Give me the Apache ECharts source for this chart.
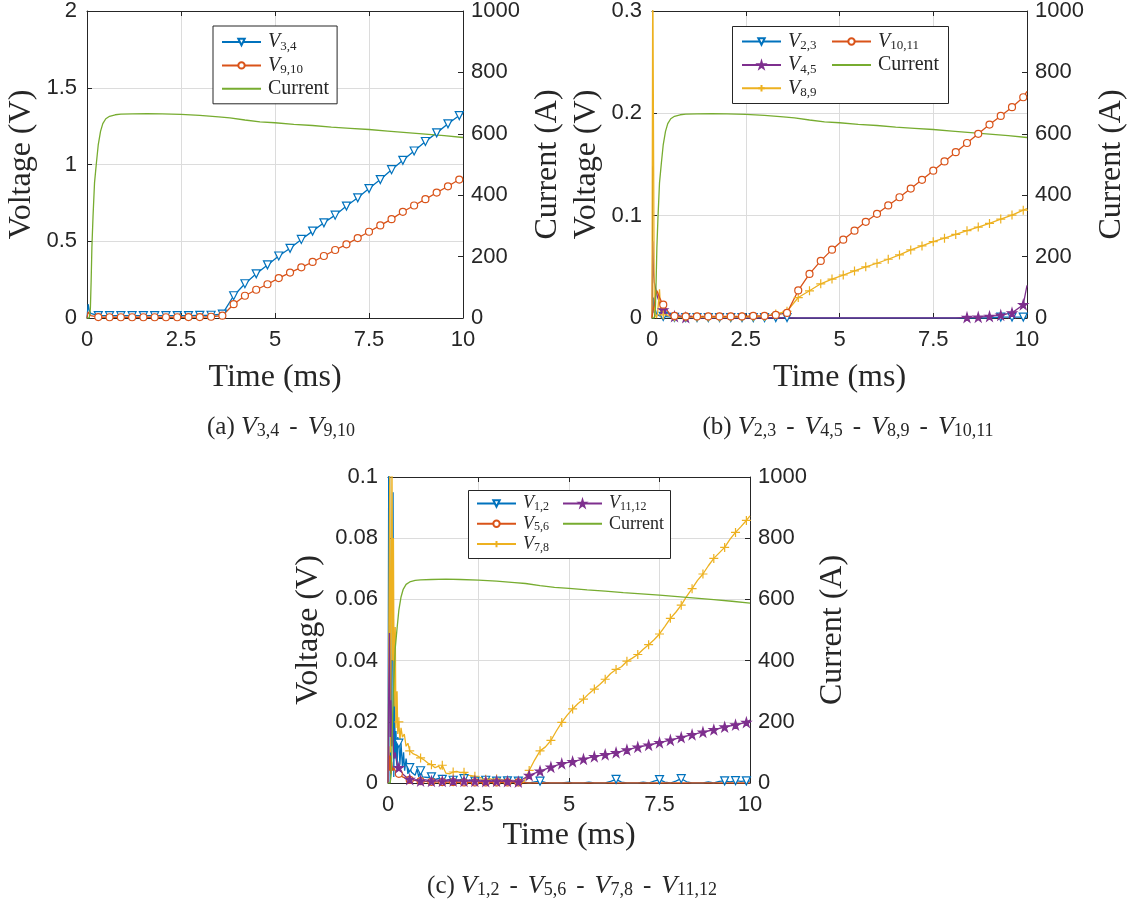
<!DOCTYPE html>
<html><head><meta charset="utf-8">
<script src="https://cdn.jsdelivr.net/npm/echarts@6/dist/echarts.min.js"></script>
<style>html,body{margin:0;padding:0;background:#fff}#c{width:1129px;height:909px}</style>
</head><body><div id="c"></div>
<script>
// ---------- data ----------
const timeTicks = [0, 2.5, 5, 7.5, 10];
// Current (A), shared by all three panels
const tCur = [0, 0.06, 0.09, 0.11, 0.13, 0.16, 0.2, 0.25, 0.3, 0.36, 0.42, 0.5, 0.6, 0.75, 0.9, 1.2, 1.6, 2.0, 2.5, 3.0, 3.5, 3.8, 4.2, 4.6, 5.0, 5.5, 6.0, 6.5, 7.0, 7.5, 8.0, 8.5, 9.0, 9.5, 10];
const iCur = [0, 0, 30, 120, 230, 330, 440, 505, 565, 608, 633, 649, 657, 662, 664, 665, 666, 665, 663, 660, 655, 652, 645, 639, 636, 631, 627, 622, 618, 614, 609, 604, 599, 594, 588];

// Panel (a)
const tA = [0, 0.03, 0.06, 0.1, 0.15, 0.3, 0.6, 0.9, 1.2, 1.5, 1.8, 2.1, 2.4, 2.7, 3.0, 3.3, 3.6,
  3.9, 4.2, 4.5, 4.8, 5.1, 5.4, 5.7, 6.0, 6.3, 6.6, 6.9, 7.2, 7.5, 7.8, 8.1, 8.4, 8.7, 9.0, 9.3, 9.6, 9.9, 10];
const vA34 = [0, 0.09, 0.05, 0.03, 0.02, 0.016, 0.015, 0.015, 0.015, 0.015, 0.015, 0.015, 0.016, 0.016, 0.017, 0.018, 0.025,
  0.145, 0.223, 0.288, 0.346, 0.404, 0.454, 0.512, 0.566, 0.62, 0.67, 0.729, 0.783, 0.843, 0.902, 0.966, 1.027, 1.088, 1.15, 1.206, 1.265, 1.319, 1.333];
const vA910 = [0, 0.04, 0.03, 0.015, 0.01, 0.006, 0.005, 0.005, 0.005, 0.005, 0.005, 0.005, 0.005, 0.006, 0.006, 0.008, 0.015,
  0.09, 0.145, 0.184, 0.22, 0.26, 0.296, 0.33, 0.365, 0.404, 0.443, 0.48, 0.521, 0.562, 0.603, 0.644, 0.692, 0.733, 0.774, 0.817, 0.858, 0.902, 0.91];

// Panel (b)
const tB = [0, 0.02, 0.04, 0.06, 0.09, 0.12, 0.15, 0.2, 0.24, 0.3, 0.45, 0.6,
  0.9, 1.2, 1.5, 1.8, 2.1, 2.4, 2.7, 3.0, 3.3, 3.6,
  3.9, 4.2, 4.5, 4.8, 5.1, 5.4, 5.7, 6.0, 6.3, 6.6, 6.9, 7.2, 7.5, 7.8, 8.1, 8.4, 8.7, 9.0, 9.3, 9.6, 9.9, 10];
const vB23 = [0, 0.01, 0.02, 0.005, 0.008, 0.004, 0.003, 0.002, 0.002, 0.0015, 0.001, 0.0006,
  0.0004, 0.0004, 0.0004, 0.0004, 0.0004, 0.0004, 0.0004, 0.0004, 0.0004, 0.0004,
  0, 0, 0, 0, 0, 0, 0, 0, 0, 0, 0, 0, 0, 0, 0, 0, 0, 0, 0.0009, 0.0009, 0.0009, 0.0009];
const vB45 = [0, 0.075, 0.045, 0.035, 0.03, 0.025, 0.02, 0.015, 0.012, 0.008, 0.004, 0.0015,
  0.0005, 0, 0, 0, 0, 0, 0, 0, 0, 0,
  0, 0, 0, 0, 0, 0, 0, 0, 0, 0, 0, 0, 0, 0, 0, 0.0006, 0.0008, 0.0015, 0.0028, 0.005, 0.013, 0.032];
const vB89 = [0, 0.35, 0.35, 0.01, 0.003, 0, 0.005, 0.028, 0, 0.003, 0.002, 0.001,
  0.001, 0.001, 0.001, 0.001, 0.001, 0.0012, 0.0012, 0.0015, 0.004, 0.0065,
  0.02, 0.0266, 0.0334, 0.038, 0.042, 0.046, 0.05, 0.0535, 0.0574, 0.0616, 0.0665, 0.0704, 0.0746, 0.078, 0.0817, 0.0853, 0.0889, 0.0924, 0.0967, 0.1006, 0.1054, 0.107];
const vB1011 = [0, 0.005, 0.01, 0.012, 0.02, 0.027, 0.025, 0.02, 0.017, 0.013, 0.005, 0.002,
  0.0015, 0.0015, 0.0015, 0.0015, 0.0015, 0.0015, 0.002, 0.002, 0.003, 0.005,
  0.0269, 0.0431, 0.0558, 0.0668, 0.0765, 0.0853, 0.094, 0.1018, 0.11, 0.118, 0.1265, 0.135, 0.144, 0.153, 0.162, 0.171, 0.18, 0.189, 0.1975, 0.206, 0.2157, 0.2215];

// Panel (c)  [time ms, volts]
const c12 = [[0,0],[0.02,0.105],[0.04,0.11],[0.06,0],[0.08,0.04],[0.1,0.012],[0.12,0.06],[0.14,0.095],[0.16,0.002],[0.18,0.03],
  [0.2,0.008],[0.22,0.017],[0.25,0.004],[0.27,0.015],[0.3,0.013],[0.33,0.006],[0.36,0.013],[0.4,0.005],[0.43,0.01],[0.46,0.004],
  [0.5,0.008],[0.55,0.003],[0.6,0.005],[0.65,0.0035],[0.7,0.004],[0.75,0.0025],[0.8,0.0045],[0.85,0.002],[0.9,0.004],[0.95,0.002],
  [1.0,0.0025],[1.1,0.0018],[1.2,0.002],[1.3,0.0012],[1.4,0.0015],[1.5,0.0012],[1.6,0.0008],[1.7,0.0012],[1.8,0.0009],[1.9,0.0006],
  [2.0,0.0011],[2.1,0.0014],[2.2,0.0007],[2.3,0.0009],[2.4,0.0006],[2.5,0.0008],[2.6,0.0005],[2.7,0.0009],[2.8,0.0005],[2.9,0.0007],
  [3.0,0.0006],[3.15,0.0004],[3.3,0.0007],[3.45,0.0004],[3.6,0.0006],[3.75,0.0003],[3.9,0],[4.05,0.0004],[4.2,0.0006],[4.35,0.0002],
  [4.5,0],[4.8,0],[5.0,0.0003],[5.1,0],[5.4,0],[5.55,0.0003],[5.7,0],[6.0,0],[6.15,0.0005],[6.3,0.0012],[6.45,0.0003],[6.6,0],
  [6.9,0],[7.05,0.0003],[7.2,0],[7.35,0.0006],[7.5,0.0011],[7.65,0.0003],[7.8,0],[7.95,0.0006],[8.1,0.0014],[8.25,0.0004],
  [8.4,0],[8.7,0],[8.85,0.0004],[9.0,0],[9.15,0.0005],[9.3,0.0007],[9.45,0.0004],[9.6,0.0008],[9.75,0.0005],[9.9,0.0007],[10,0.0006]];
const c56 = [[0,0],[0.02,0.012],[0.04,0.004],[0.06,0.009],[0.08,0.003],[0.1,0.007],[0.13,0.004],[0.16,0.005],[0.2,0.004],[0.25,0.0035],
  [0.3,0.003],[0.4,0.002],[0.5,0.0015],[0.6,0.001],[0.9,0.0006],[1.2,0.0004],[1.5,0.0003],[1.8,0.0003],[2.1,0.0002],[2.4,0.0002],
  [2.7,0.0002],[3.0,0.0002],[3.3,0.0002],[3.6,0.0002],[3.9,0],[4.5,0],[5.1,0],[5.7,0],[6.3,0],[6.9,0],
  [7.5,0],[8.1,0],[8.7,0],[9.3,0],[9.9,0],[10,0]];
const c78 = [[0,0],[0.03,0],[0.05,0.105],[0.07,0.01],[0.09,0.06],[0.11,0.105],[0.13,0.04],[0.15,0.08],[0.17,0.025],[0.2,0.051],
  [0.22,0.018],[0.25,0.03],[0.27,0.016],[0.3,0.02],[0.33,0.014],[0.36,0.018],[0.4,0.015],[0.45,0.016],[0.5,0.012],[0.55,0.013],
  [0.6,0.0105],[0.65,0.011],[0.7,0.0095],[0.8,0.009],[0.9,0.0082],[1.0,0.0075],[1.1,0.0065],[1.2,0.006],[1.3,0.005],[1.4,0.0055],
  [1.45,0.0045],[1.5,0.0058],[1.6,0.0032],[1.7,0.003],[1.8,0.0036],[1.9,0.0038],[2.0,0.0034],[2.1,0.0035],[2.2,0.0026],[2.3,0.0024],
  [2.4,0.0022],[2.5,0.0016],[2.6,0.0018],[2.7,0.0012],[2.8,0.0014],[2.9,0.0011],[3.0,0.0013],[3.1,0.0009],[3.2,0.001],[3.3,0.0008],
  [3.45,0.0007],[3.6,0.0005],[3.75,0.0003],[3.9,0.0041],[4.05,0.0075],[4.2,0.0105],[4.35,0.0118],[4.5,0.0139],[4.65,0.017],[4.8,0.0198],
  [4.95,0.0222],[5.1,0.0242],[5.25,0.026],[5.4,0.0274],[5.55,0.0292],[5.7,0.0307],[5.85,0.0322],[6.0,0.0339],[6.15,0.0358],[6.3,0.0371],
  [6.45,0.038],[6.6,0.0398],[6.75,0.0408],[6.9,0.042],[7.05,0.0437],[7.2,0.0452],[7.35,0.0468],[7.5,0.0487],[7.65,0.0512],[7.8,0.0538],
  [7.95,0.0558],[8.1,0.0581],[8.25,0.061],[8.4,0.0635],[8.55,0.0662],[8.7,0.0683],[8.85,0.071],[9.0,0.0734],[9.15,0.0752],[9.3,0.077],
  [9.45,0.0797],[9.6,0.0819],[9.75,0.0838],[9.9,0.0858],[10,0.0873]];
const c1112 = [[0,0],[0.02,0.03],[0.04,0.049],[0.06,0.015],[0.08,0.027],[0.1,0.012],[0.13,0.018],[0.16,0.008],[0.2,0.01],[0.25,0.006],
  [0.3,0.005],[0.4,0.003],[0.5,0.002],[0.6,0.0012],[0.9,0.0007],[1.2,0.0006],[1.5,0.0006],[1.8,0.0007],[2.1,0.0006],[2.4,0.0006],
  [2.7,0.0005],[3.0,0.0006],[3.3,0.0005],[3.6,0.0004],[3.9,0.0025],[4.2,0.0039],[4.5,0.0052],[4.8,0.0063],[5.1,0.007],[5.4,0.0078],
  [5.7,0.0086],[6.0,0.0093],[6.3,0.0099],[6.6,0.0108],[6.9,0.0117],[7.2,0.0124],[7.5,0.0132],[7.8,0.014],[8.1,0.0149],[8.4,0.0158],
  [8.7,0.0166],[9.0,0.0174],[9.3,0.0183],[9.6,0.019],[9.9,0.0198],[10,0.0206]];

// ---------- style ----------
const COL = {blue:'#0072BD', orange:'#D95319', yellow:'#EDB120', purple:'#7E2F8E', green:'#77AC30'};
const INK = '#262626';
const GRIDC = '#dcdcdc';
const SERIF = '"Liberation Serif","Times New Roman",serif';
const SANS = '"Liberation Sans",Arial,Helvetica,sans-serif';
const TICKFS = 22;
const SYM = {
  tri:  {symbol:'triangle', rotate:180, size:8, fill:'#fff'},
  circ: {symbol:'circle', rotate:0, size:7, fill:'#fff'},
  plus: {symbol:'path://M5,0L5,10M0,5L10,5', rotate:0, size:9, fill:'none'},
  star: {symbol:'path://M50,0L61,35L98,35L68,57L79,91L50,70L21,91L32,57L2,35L39,35Z', rotate:0, size:9, fill:null}
};

const isMark = t => { const k = Math.round(t * 100); return k > 0 && k % 30 === 0; };
const zipPairs = (ts, vs) => ts.map((t, i) => [t, vs[i]]);
const toItems = pairs => pairs.map(([t, v]) => (isMark(t) && v > 0) ? {value:[t, v]} : {value:[t, v], symbol:'none'});

function vSeries(name, color, sym, pairs, gi) {
  return {
    type:'line', name, xAxisIndex:2*gi, yAxisIndex:2*gi, data:toItems(pairs),
    symbol:sym.symbol, symbolSize:sym.size, symbolRotate:sym.rotate, showSymbol:true,
    lineStyle:{color, width:1.3}, color,
    itemStyle:{color: (sym.fill === null || sym.fill === 'none') ? color : sym.fill, borderColor:color, borderWidth:1.2},
    emphasis:{disabled:true}, z:2
  };
}
function curSeries(gi) {
  return {type:'line', name:'Current', xAxisIndex:2*gi, yAxisIndex:2*gi+1, data:zipPairs(tCur, iCur),
    symbol:'none', showSymbol:false, lineStyle:{color:COL.green, width:1.3}, color:COL.green,
    itemStyle:{color:COL.green}, emphasis:{disabled:true}, z:2};
}

const plainNum = v => String(Math.round(v * 1e6) / 1e6);
const lblStyle = {color:INK, fontSize:TICKFS, fontFamily:SANS, formatter:plainNum};
const nameStyle = {color:INK, fontSize:32, fontFamily:SERIF};
function axesFor(gi, vmax, vint, opts) {
  const xs = [
    {gridIndex:gi, type:'value', min:0, max:10, interval:2.5, position:'bottom',
     axisLine:{show:true, onZero:false, lineStyle:{color:INK, width:1}},
     axisTick:{show:true, inside:true, length:5, lineStyle:{color:INK}},
     axisLabel:Object.assign({margin:opts.xMargin}, lblStyle),
     splitLine:{show:true, lineStyle:{color:GRIDC, width:1}},
     name:'Time (ms)', nameLocation:'middle', nameGap:opts.xNameGap, nameTextStyle:nameStyle},
    {gridIndex:gi, type:'value', min:0, max:10, interval:2.5, position:'top',
     axisLine:{show:true, onZero:false, lineStyle:{color:INK, width:1}},
     axisTick:{show:true, inside:true, length:5, lineStyle:{color:INK}},
     axisLabel:{show:false}, splitLine:{show:false}}
  ];
  const ys = [
    {gridIndex:gi, type:'value', min:0, max:vmax, interval:vint, position:'left',
     axisLine:{show:true, onZero:false, lineStyle:{color:INK, width:1}},
     axisTick:{show:true, inside:true, length:5, lineStyle:{color:INK}},
     axisLabel:Object.assign({margin:10}, lblStyle),
     splitLine:{show:true, lineStyle:{color:GRIDC, width:1}},
     name:'Voltage (V)', nameLocation:'middle', nameRotate:90, nameGap:opts.yNameGap, nameTextStyle:nameStyle},
    {gridIndex:gi, type:'value', min:0, max:1000, interval:200, position:'right',
     axisLine:{show:true, onZero:false, lineStyle:{color:INK, width:1}},
     axisTick:{show:true, inside:true, length:5, lineStyle:{color:INK}},
     axisLabel:Object.assign({margin:8}, lblStyle),
     splitLine:{show:false},
     name:'Current (A)', nameLocation:'middle', nameRotate:90, nameGap:opts.y2NameGap, nameTextStyle:nameStyle}
  ];
  return {xs, ys};
}

const A = axesFor(0, 2, 0.5, {xMargin:11, xNameGap:44, yNameGap:49, y2NameGap:69});
const B = axesFor(1, 0.3, 0.1, {xMargin:11, xNameGap:44, yNameGap:49, y2NameGap:69});
const Cx = axesFor(2, 0.1, 0.02, {xMargin:11, xNameGap:37, yNameGap:63, y2NameGap:67});

function legendRich(fs, sfs, lh) {
  return {
    i:{fontFamily:SERIF, fontStyle:'italic', fontSize:fs, lineHeight:lh, color:INK},
    s:{fontFamily:SERIF, fontSize:sfs, lineHeight:sfs, verticalAlign:'bottom', color:INK},
    n:{fontFamily:SERIF, fontSize:fs, lineHeight:lh, color:INK}
  };
}
const legFmt = n => n === 'Current' ? '{n|Current}' : '{i|V}{s|' + n.slice(1) + '}';
const legData = names => names.map(n => n === 'Current' ? {name:n, itemStyle:{opacity:0}} : n);
function mkLegend(left, top, names, fs, sfs, lh, gap, extra) {
  return Object.assign({
    orient:'vertical', left, top, data:legData(names), itemGap:gap, itemWidth:39, itemHeight:8,
    formatter:legFmt, textStyle:{rich:legendRich(fs, sfs, lh), padding:[0,0,0,2]},
    selectedMode:false, z:5, padding:0
  }, extra || {});
}

const capRich = {
  n:{fontFamily:SERIF, fontSize:25, color:INK},
  d:{fontFamily:SERIF, fontSize:25, color:INK, padding:[0,10,0,10]},
  i:{fontFamily:SERIF, fontStyle:'italic', fontSize:26, color:INK},
  s:{fontFamily:SERIF, fontSize:18, color:INK, verticalAlign:'bottom', lineHeight:18}
};
function caption(x, y, parts, label) {
  let txt = '{n|(' + label + ') }';
  parts.forEach((p, k) => { txt += (k ? '{d|-}' : '') + '{i|V}{s|' + p + '}'; });
  return {type:'text', x, y, z:10, style:{text:txt, rich:capRich, align:'center', verticalAlign:'middle', fill:INK}};
}

const option = {
  animation:false,
  backgroundColor:'#fff',
  grid:[
    {left:87, top:10, width:376, height:308},
    {left:652, top:10, width:376, height:308},
    {left:388, top:477, width:362, height:306}
  ],
  xAxis:[...A.xs, ...B.xs, ...Cx.xs],
  yAxis:[...A.ys, ...B.ys, ...Cx.ys],
  legend:[
    mkLegend(213, 26, ['V3,4','V9,10','Current'], 20, 13, 22, 2.4,
      {padding:[6,8,5,8], borderColor:INK, borderWidth:1, backgroundColor:'#fff'}),
    mkLegend(741, 31.5, ['V2,3','V4,5','V8,9'], 20, 13, 22, 2.4),
    mkLegend(831, 31.5, ['V10,11','Current'], 20, 13, 22, 2.4),
    mkLegend(476, 494.5, ['V1,2','V5,6','V7,8'], 18, 12, 19, 1.8),
    mkLegend(562, 494.5, ['V11,12','Current'], 18, 12, 19, 1.8)
  ],
  graphic:[
    {type:'rect', z:4, shape:{x:732.5, y:26.5, width:216, height:77}, style:{fill:'#fff', stroke:INK, lineWidth:1}},
    {type:'rect', z:4, shape:{x:468.5, y:490.5, width:202, height:68}, style:{fill:'#fff', stroke:INK, lineWidth:1}},
    caption(281, 427, ['3,4','9,10'], 'a'),
    caption(848, 427, ['2,3','4,5','8,9','10,11'], 'b'),
    caption(572, 886, ['1,2','5,6','7,8','11,12'], 'c')
  ],
  series:[
    vSeries('V3,4', COL.blue, SYM.tri, zipPairs(tA, vA34), 0),
    vSeries('V9,10', COL.orange, SYM.circ, zipPairs(tA, vA910), 0),
    curSeries(0),
    vSeries('V2,3', COL.blue, SYM.tri, zipPairs(tB, vB23), 1),
    vSeries('V4,5', COL.purple, SYM.star, zipPairs(tB, vB45), 1),
    vSeries('V8,9', COL.yellow, SYM.plus, zipPairs(tB, vB89), 1),
    vSeries('V10,11', COL.orange, SYM.circ, zipPairs(tB, vB1011), 1),
    curSeries(1),
    vSeries('V1,2', COL.blue, SYM.tri, c12, 2),
    vSeries('V5,6', COL.orange, SYM.circ, c56, 2),
    vSeries('V7,8', COL.yellow, SYM.plus, c78, 2),
    vSeries('V11,12', COL.purple, SYM.star, c1112, 2),
    curSeries(2)
  ]
};
const chart = echarts.init(document.getElementById('c'), null, {renderer:'canvas'});
chart.setOption(option);
</script>
</body></html>
